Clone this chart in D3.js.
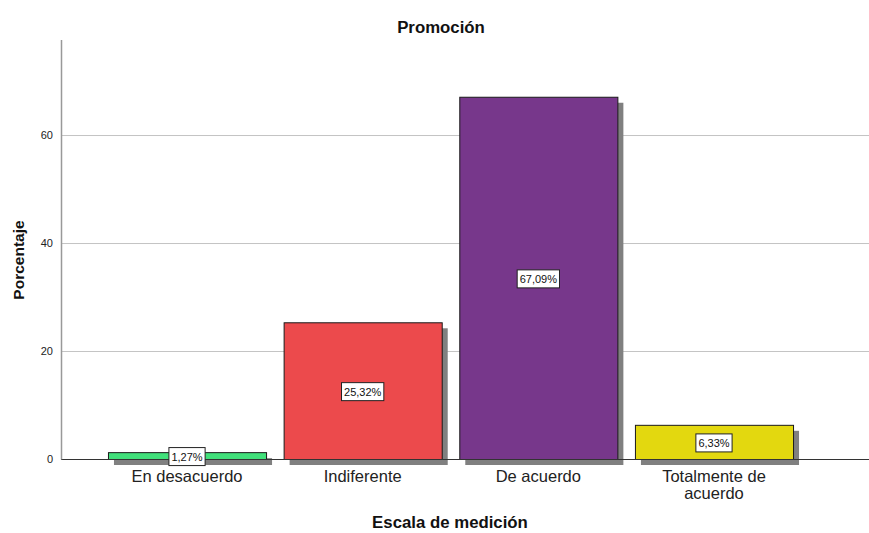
<!DOCTYPE html>
<html><head><meta charset="utf-8">
<script src="https://cdn.jsdelivr.net/npm/d3@7"></script>
<style>body{margin:0;background:#fff}svg{display:block;font-family:Arial,"Liberation Sans",sans-serif}</style>
</head><body><svg id="c" width="869" height="533"></svg>
<script>
const categories = ["En desacuerdo", "Indiferente", "De acuerdo", "Totalmente de acuerdo"];
const values = [1.27, 25.32, 67.09, 6.33];
const valueLabels = ["1,27%", "25,32%", "67,09%", "6,33%"];
const colors = ["#41e17b", "#ec4a4c", "#77378b", "#e3d80f"];
const yTicks = [0, 20, 40, 60];

const svg = d3.select("#c");
const x = d3.scaleBand().domain(categories).range([90.4, 810.6]).paddingInner(0.1).paddingOuter(0.1);
const y = d3.scaleLinear().domain([0, 77.6]).range([459, 40]);
const left = 61, right = 869;

// gridlines
svg.append("g").selectAll("line").data(yTicks.filter(d => d > 0)).join("line")
  .attr("x1", left).attr("x2", right).attr("y1", d => y(d) + 0.5).attr("y2", d => y(d) + 0.5)
  .attr("stroke", "#c4c4c4").attr("stroke-width", 1);

// shadows
svg.append("g").selectAll("rect").data(categories).join("rect")
  .attr("x", d => x(d) + 6).attr("y", (d, i) => y(values[i]) + 6)
  .attr("width", x.bandwidth()).attr("height", (d, i) => y(0) - y(values[i]))
  .attr("fill", "#808080");

// bars
svg.append("g").selectAll("rect").data(categories).join("rect")
  .attr("x", d => x(d) + 0.5).attr("y", (d, i) => y(values[i]) + 0.5)
  .attr("width", x.bandwidth()).attr("height", (d, i) => y(0) - y(values[i]))
  .attr("fill", (d, i) => colors[i]).attr("stroke", "#1a1a1a").attr("stroke-width", 1);

// axes lines
svg.append("line").attr("x1", left).attr("x2", right).attr("y1", 459.5).attr("y2", 459.5).attr("stroke", "#333");
svg.append("line").attr("x1", left + 0.5).attr("x2", left + 0.5).attr("y1", 40).attr("y2", 459.5).attr("stroke", "#999").attr("stroke-width", 1.5);

// y tick labels
svg.append("g").selectAll("text").data(yTicks).join("text")
  .attr("x", 53).attr("y", d => y(d) + 4).attr("text-anchor", "end")
  .attr("font-size", 11).attr("fill", "#222").text(d => d);

// value labels
const lab = svg.append("g").selectAll("g").data(categories).join("g")
  .attr("transform", (d, i) => `translate(${x(d) + x.bandwidth() / 2},${(y(values[i]) + y(0)) / 2 + 1})`);
lab.each(function (d, i) {
  const g = d3.select(this);
  const t = g.append("text").attr("text-anchor", "middle").attr("y", 4)
    .attr("font-size", 11).attr("fill", "#111").text(valueLabels[i]);
  const w = t.node().getComputedTextLength() + 5;
  g.insert("rect", "text").attr("x", -w / 2).attr("y", -9).attr("width", w).attr("height", 18)
    .attr("fill", "#fff").attr("stroke", "#222").attr("stroke-width", 1);
});

// category labels
const catLines = [["En desacuerdo"], ["Indiferente"], ["De acuerdo"], ["Totalmente de", "acuerdo"]];
svg.append("g").selectAll("text").data(categories).join("text")
  .attr("text-anchor", "middle").attr("font-size", 16.5).attr("fill", "#222")
  .each(function (d, i) {
    d3.select(this).selectAll("tspan").data(catLines[i]).join("tspan")
      .attr("x", x(d) + x.bandwidth() / 2).attr("y", (t, j) => 482 + j * 17).text(t => t);
  });

// titles
svg.append("text").attr("x", 441).attr("y", 33).attr("text-anchor", "middle")
  .attr("font-size", 16.8).attr("font-weight", "bold").attr("fill", "#111").text("Promoción");
svg.append("text").attr("x", 450).attr("y", 528).attr("text-anchor", "middle")
  .attr("font-size", 16.8).attr("font-weight", "bold").attr("fill", "#111").text("Escala de medición");
svg.append("text").attr("transform", "translate(24,260) rotate(-90)").attr("text-anchor", "middle")
  .attr("font-size", 15.5).attr("font-weight", "bold").attr("fill", "#111").text("Porcentaje");
</script></body></html>
